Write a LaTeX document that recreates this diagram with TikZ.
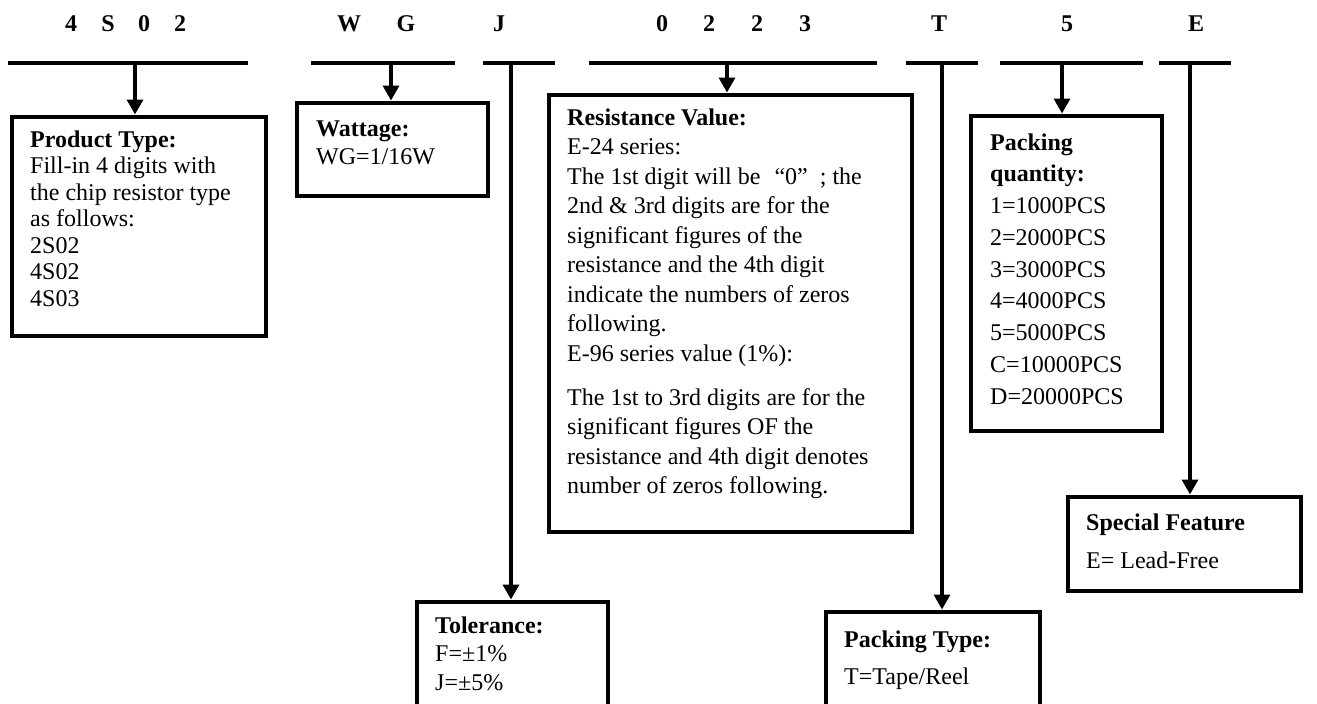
\documentclass[tikz,border=0pt]{standalone}
\usepackage{fontspec}
\setmainfont{Liberation Serif}
\usetikzlibrary{arrows.meta}
\tikzset{
  bar/.style={line width=4pt},
  box/.style={draw, line width=4pt, inner sep=0pt, anchor=north west},
  arr/.style={line width=3.4pt, -{Triangle[width=16pt,length=15pt]}},
  hd/.style={inner sep=0pt, anchor=base, font=\fontsize{24}{28}\selectfont\bfseries},
  txt/.style={inner sep=0pt, anchor=base west, align=left},
}
\newcommand{\boxtext}[2]{\parbox[t]{340pt}{\fontsize{24}{#1}\selectfont\raggedright #2}}
\begin{document}
\begin{tikzpicture}[x=1pt,y=-1pt]
\useasboundingbox (0,0) rectangle (1317,704);
\clip (0,0) rectangle (1317,704);
% header letters
\node[hd] (h1) at (71,31) {4};
\node[hd] (h2) at (108,31) {S};
\node[hd] (h3) at (144,31) {0};
\node[hd] (h4) at (180,31) {2};
\node[hd] (h5) at (349,31) {W};
\node[hd] (h6) at (406,31) {G};
\node[hd] (h7) at (499,31) {J};
\node[hd] (h8) at (662,31) {0};
\node[hd] (h9) at (709,31) {2};
\node[hd] (h10) at (757,31) {2};
\node[hd] (h11) at (805,31) {3};
\node[hd] (h12) at (939,31) {T};
\node[hd] (h13) at (1067,31) {5};
\node[hd] (h14) at (1196,31) {E};
% bars
\draw[bar] (8,63) -- (248,63);
\draw[bar] (311,63) -- (455,63);
\draw[bar] (483,63) -- (555,63);
\draw[bar] (589,63) -- (877,63);
\draw[bar] (906,63) -- (978,63);
\draw[bar] (1000,63) -- (1143,63);
\draw[bar] (1159,63) -- (1231,63);
% connector origins
\coordinate (c1) at (135,63);
\coordinate (c2) at (391,63);
\coordinate (c3) at (511,63);
\coordinate (c4) at (727,63);
\coordinate (c5) at (942,63);
\coordinate (c6) at (1062,63);
\coordinate (c7) at (1190,63);
% boxes
\node[box, minimum width=254pt, minimum height=219pt] (prod) at (9.5,114.5) {};
\node[box, minimum width=191pt, minimum height=93pt] (watt) at (294.5,100.5) {};
\node[box, minimum width=363pt, minimum height=437pt] (res) at (546.5,92.5) {};
\node[box, minimum width=191pt, minimum height=315pt] (qty) at (968.5,113.5) {};
\node[box, minimum width=191pt, minimum height=140pt] (tol) at (414.5,599.5) {};
\node[box, minimum width=214pt, minimum height=130pt] (ptype) at (823.5,609.5) {};
\node[box, minimum width=233pt, minimum height=94pt] (spec) at (1065.5,494.5) {};
% connectors
\draw[arr] (c1) -- (c1 |- prod.north);
\draw[arr] (c2) -- (c2 |- watt.north);
\draw[arr] (c3) -- (c3 |- tol.north);
\draw[arr] (c4) -- (c4 |- res.north);
\draw[arr] (c5) -- (c5 |- ptype.north);
\draw[arr] (c6) -- (c6 |- qty.north);
\draw[arr] (c7) -- (c7 |- spec.north);
% texts
\node[txt] (tprod) at (30,147) {\boxtext{26.5}{\textbf{Product Type:}\\Fill-in 4 digits with\\the chip resistor type\\as follows:\\2S02\\4S02\\4S03}};
\node[txt] (twatt) at (316,136) {\boxtext{28}{\textbf{Wattage:}\\WG=1/16W}};
\node[txt] (tres) at (567,125) {\boxtext{29.5}{\textbf{Resistance Value:}\\E-24 series:\\The 1st digit will be\hspace{14pt}“0”\hspace{12pt}; the\\2nd \& 3rd digits are for the\\significant figures of the\\resistance and the 4th digit\\indicate the numbers of zeros\\following.\\E-96 series value (1\%):\\[14.5pt]The 1st to 3rd digits are for the\\significant figures OF the\\resistance and 4th digit denotes\\number of zeros following.}};
\node[txt] (tqty) at (990,150) {\boxtext{31.75}{\textbf{Packing}\\\textbf{quantity:}\\1=1000PCS\\2=2000PCS\\3=3000PCS\\4=4000PCS\\5=5000PCS\\C=10000PCS\\D=20000PCS}};
\node[txt] (ttol) at (435,633) {\boxtext{28.5}{\textbf{Tolerance:}\\F=±1\%\\J=±5\%}};
\node[txt] (tptype) at (844,647) {\boxtext{37}{\textbf{Packing Type:}\\T=Tape/Reel}};
\node[txt] (tspec) at (1086,530) {\boxtext{38}{\textbf{Special Feature}\\E= Lead-Free}};
\end{tikzpicture}
\end{document}
